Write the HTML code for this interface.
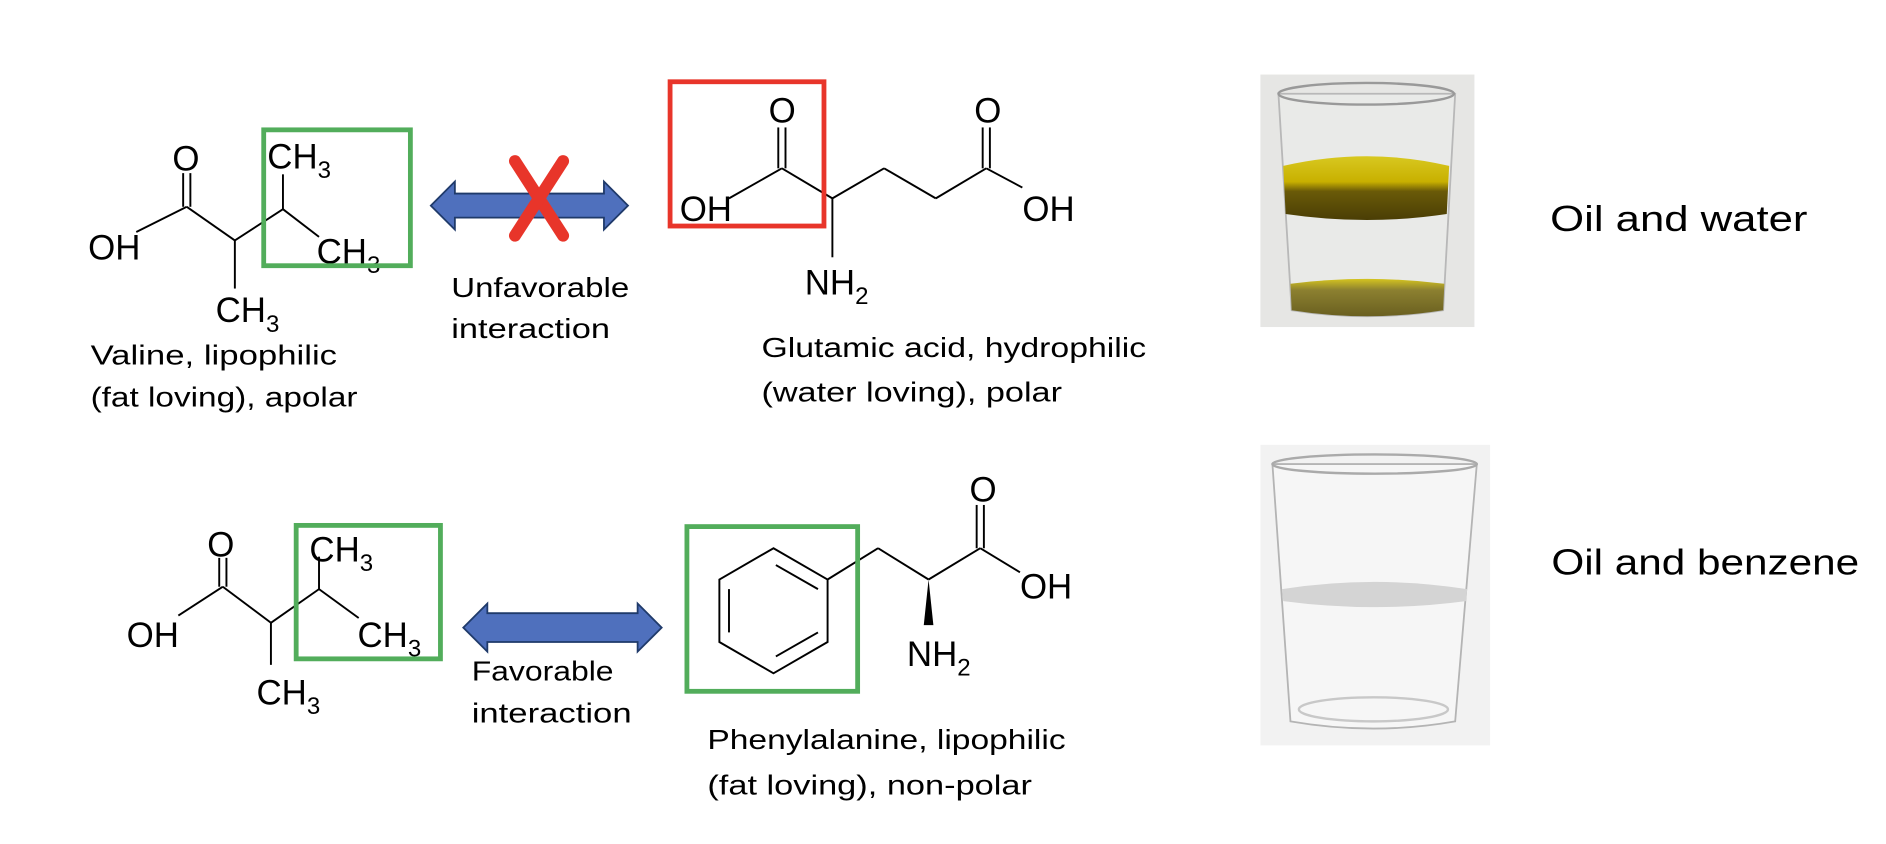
<!DOCTYPE html>
<html><head><meta charset="utf-8"><style>
html,body{margin:0;padding:0;background:#fff;}
svg{display:block;}
.c{font-family:"Liberation Sans",Arial,sans-serif;font-size:29px;fill:#000;}
.s{font-size:20px;}
.t{font-family:"Liberation Sans",sans-serif;font-size:23px;fill:#000;}
.b{stroke:#000;stroke-width:1.6;fill:none;}
</style></head><body>
<svg width="1886" height="844" viewBox="0 0 1568 702" xmlns="http://www.w3.org/2000/svg">
<defs>
<linearGradient id="oil" x1="0" y1="0" x2="0" y2="1">
<stop offset="0" stop-color="#d8c820"/><stop offset="0.4" stop-color="#c8b000"/><stop offset="0.55" stop-color="#6a5a08"/><stop offset="1" stop-color="#4a3e05"/>
</linearGradient>
<linearGradient id="bot" x1="0" y1="0" x2="0" y2="1">
<stop offset="0" stop-color="#d4c420"/><stop offset="0.3" stop-color="#8c8030"/><stop offset="1" stop-color="#6a6020"/>
</linearGradient>
</defs>
<!-- top valine -->
<g class="b">
<line x1="113" y1="193" x2="155" y2="172"/><line x1="155" y1="172" x2="195" y2="200"/><line x1="195" y1="200" x2="235" y2="174"/><line x1="235" y1="174" x2="265" y2="197"/>
<line x1="152" y1="144" x2="152" y2="172"/><line x1="158" y1="144" x2="158" y2="172"/>
<line x1="195" y1="200" x2="195" y2="240"/><line x1="235" y1="174" x2="235" y2="145"/>
</g>
<text class="c" x="143" y="142">O</text>
<text class="c" x="73" y="216">OH</text>
<text class="c" x="222" y="140">CH<tspan class="s" dy="8">3</tspan></text>
<text class="c" x="263" y="219">CH<tspan class="s" dy="8">3</tspan></text>
<text class="c" x="179" y="268">CH<tspan class="s" dy="8">3</tspan></text>
<rect x="219" y="108" width="122" height="113" fill="none" stroke="#52ad5b" stroke-width="4"/>
<!-- arrow top -->
<path d="M358,171 L378,151 L378,161 L502,161 L502,151 L522,171 L502,191 L502,181 L378,181 L378,191 Z" fill="#4f70bd" stroke="#1f3a6a" stroke-width="1.5"/>
<g stroke="#e8352a" stroke-width="10" stroke-linecap="round"><line x1="428" y1="134" x2="468" y2="196"/><line x1="468" y1="134" x2="428" y2="196"/></g>
<text class="t" x="375" y="247" textLength="148" lengthAdjust="spacingAndGlyphs">Unfavorable</text>
<text class="t" x="375" y="281" textLength="132" lengthAdjust="spacingAndGlyphs">interaction</text>
<text class="t" x="75" y="303" textLength="205" lengthAdjust="spacingAndGlyphs">Valine, lipophilic</text>
<text class="t" x="75" y="338" textLength="222" lengthAdjust="spacingAndGlyphs">(fat loving), apolar</text>
<!-- glutamic acid -->
<g class="b">
<line x1="606" y1="165" x2="650" y2="140"/><line x1="650" y1="140" x2="692" y2="165"/><line x1="692" y1="165" x2="735" y2="140"/><line x1="735" y1="140" x2="778" y2="165"/><line x1="778" y1="165" x2="820" y2="140"/><line x1="820" y1="140" x2="850" y2="156"/>
<line x1="647" y1="106" x2="647" y2="140"/><line x1="653" y1="106" x2="653" y2="140"/>
<line x1="817" y1="106" x2="817" y2="140"/><line x1="823" y1="106" x2="823" y2="140"/>
<line x1="692" y1="165" x2="692" y2="214"/>
</g>
<text class="c" x="639" y="102">O</text>
<text class="c" x="810" y="102">O</text>
<text class="c" x="565" y="184">OH</text>
<text class="c" x="850" y="184">OH</text>
<text class="c" x="669" y="245">NH<tspan class="s" dy="8">2</tspan></text>
<rect x="557" y="68" width="128" height="120" fill="none" stroke="#e8352a" stroke-width="4"/>
<text class="t" x="633" y="297" textLength="320" lengthAdjust="spacingAndGlyphs">Glutamic acid, hydrophilic</text>
<text class="t" x="633" y="334" textLength="250" lengthAdjust="spacingAndGlyphs">(water loving), polar</text>
<!-- bottom valine -->
<g class="b">
<line x1="148" y1="512" x2="185" y2="488"/><line x1="185" y1="488" x2="225" y2="518"/><line x1="225" y1="518" x2="265" y2="490"/><line x1="265" y1="490" x2="298" y2="514"/>
<line x1="182" y1="464" x2="182" y2="488"/><line x1="188" y1="464" x2="188" y2="488"/>
<line x1="225" y1="518" x2="225" y2="553"/><line x1="265" y1="490" x2="265" y2="463"/>
</g>
<text class="c" x="172" y="463">O</text>
<text class="c" x="105" y="538">OH</text>
<text class="c" x="257" y="467">CH<tspan class="s" dy="8">3</tspan></text>
<text class="c" x="297" y="538">CH<tspan class="s" dy="8">3</tspan></text>
<text class="c" x="213" y="586">CH<tspan class="s" dy="8">3</tspan></text>
<rect x="246" y="437" width="120" height="111" fill="none" stroke="#52ad5b" stroke-width="4"/>
<path d="M385,522 L405,502 L405,510 L530,510 L530,502 L550,522 L530,542 L530,534 L405,534 L405,542 Z" fill="#4f70bd" stroke="#1f3a6a" stroke-width="1.5"/>
<text class="t" x="392" y="566" textLength="118" lengthAdjust="spacingAndGlyphs">Favorable</text>
<text class="t" x="392" y="601" textLength="133" lengthAdjust="spacingAndGlyphs">interaction</text>
<!-- phenylalanine -->
<g class="b">
<polygon points="643,456 688,482 688,534 643,560 598,534 598,482"/>
<line x1="645" y1="470" x2="680" y2="490"/><line x1="680" y1="526" x2="645" y2="546"/><line x1="606" y1="490" x2="606" y2="526"/>
<line x1="688" y1="482" x2="730" y2="456"/><line x1="730" y1="456" x2="772" y2="482"/><line x1="772" y1="482" x2="815" y2="456"/><line x1="815" y1="456" x2="848" y2="476"/>
<line x1="812" y1="420" x2="812" y2="456"/><line x1="818" y1="420" x2="818" y2="456"/>
</g>
<polygon points="772,482 768,520 776,520" fill="#000"/>
<text class="c" x="806" y="417">O</text>
<text class="c" x="848" y="498">OH</text>
<text class="c" x="754" y="554">NH<tspan class="s" dy="8">2</tspan></text>
<rect x="571" y="438" width="142" height="137" fill="none" stroke="#52ad5b" stroke-width="4"/>
<text class="t" x="588" y="623" textLength="298" lengthAdjust="spacingAndGlyphs">Phenylalanine, lipophilic</text>
<text class="t" x="588" y="661" textLength="270" lengthAdjust="spacingAndGlyphs">(fat loving), non-polar</text>
<!-- glass 1 -->
<rect x="1048" y="62" width="178" height="210" fill="#e6e6e4"/>
<path d="M1063,78 L1074,258 Q1137,268 1200,258 L1210,78 Z" fill="#e9eae8" stroke="#b8b8b8" stroke-width="1.5"/>
<ellipse cx="1136" cy="78" rx="73" ry="9" fill="none" stroke="#999" stroke-width="2"/>
<path d="M1067,138 Q1137,122 1205,138 L1203,178 Q1137,188 1069,178 Z" fill="url(#oil)"/>
<path d="M1073,236 Q1137,228 1201,236 L1200,258 Q1137,268 1074,258 Z" fill="url(#bot)"/>
<!-- glass 2 -->
<rect x="1048" y="370" width="191" height="250" fill="#f2f2f2"/>
<path d="M1058,386 L1073,600 Q1142,612 1210,600 L1228,386 Z" fill="#f6f6f6" stroke="#b4b4b4" stroke-width="1.5"/>
<ellipse cx="1143" cy="386" rx="85" ry="8" fill="none" stroke="#aaa" stroke-width="2"/>
<path d="M1066,490 Q1143,478 1220,490 L1219,500 Q1143,510 1067,500 Z" fill="#d4d4d4"/>
<ellipse cx="1142" cy="590" rx="62" ry="10" fill="none" stroke="#c8c8c8" stroke-width="2"/>
<text font-family="Liberation Sans,sans-serif" font-size="30" x="1289" y="192" textLength="214" lengthAdjust="spacingAndGlyphs">Oil and water</text>
<text font-family="Liberation Sans,sans-serif" font-size="30" x="1290" y="478" textLength="256" lengthAdjust="spacingAndGlyphs">Oil and benzene</text>
</svg>
</body></html>
